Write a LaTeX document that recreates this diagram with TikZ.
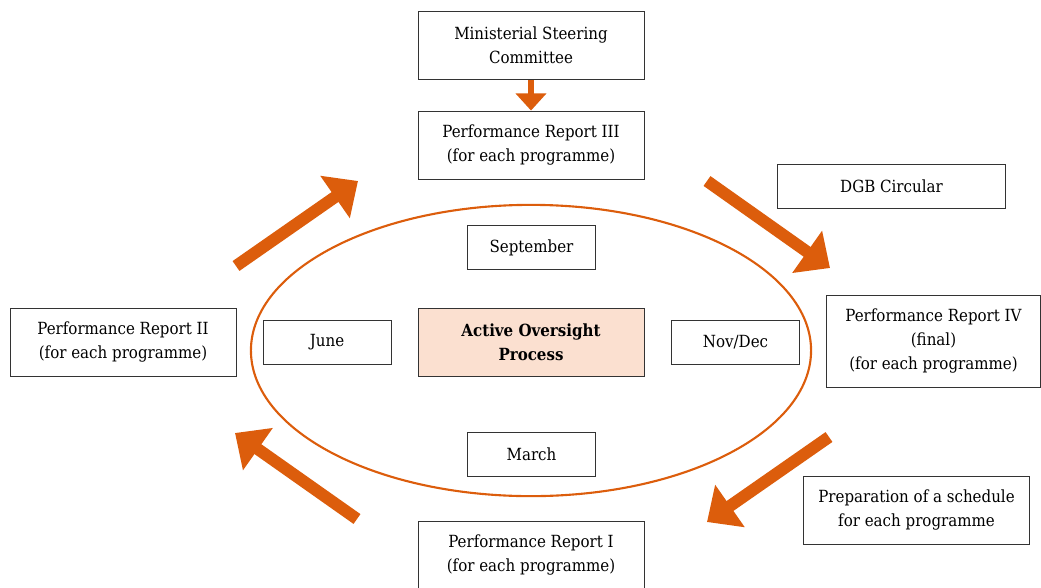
\documentclass[tikz,border=0pt]{standalone}
\usepackage{fontspec}
\setmainfont{DejaVu Serif Condensed}
\usetikzlibrary{arrows.meta,positioning}
\definecolor{oorange}{RGB}{220,93,12}
\definecolor{peach}{RGB}{251,224,208}

\begin{document}
\begin{tikzpicture}[x=0.025cm,y=-0.025cm,
	box/.style={draw=black!80, line width=0.6pt, align=center, font=\fontsize{11.9}{17}\selectfont, inner sep=0pt},
	widebox/.style={box, minimum width=5.65cm, minimum height=1.7cm},
	monthbox/.style={box, minimum width=3.2cm, minimum height=1.1cm},
	bigarrow/.style={oorange, line width=0.3cm, -{Triangle[length=0.7cm,width=1.25cm]}}]
	\useasboundingbox (0,0) rectangle (1041,587);

	\node[widebox] (msc) at (531,45.5) {Ministerial Steering\\Committee};
	\node[widebox] (pr3) at (531,145) {Performance Report III\\(for each programme)};
	\node[box, minimum width=5.68cm, minimum height=1.1cm] (dgb) at (891.5,186) {DGB Circular};
	\node[widebox] (pr2) at (123,342) {Performance Report II\\(for each programme)};
	\node[box, minimum width=5.33cm, minimum height=2.3cm] (pr4) at (933.5,341) {Performance Report IV\\(final)\\(for each programme)};
	\node[widebox] (prep) at (916.5,510) {Preparation of a schedule\\for each programme};
	\node[widebox] (pr1) at (531,555) {Performance Report I\\(for each programme)};

	\draw[oorange, line width=1.5pt] (531,350.5) ellipse [x radius=7cm, y radius=3.64cm];

	\node[monthbox] (sep) at (531.5,247.5) {September};
	\node[monthbox] (jun) at (327,342) {June};
	\node[monthbox] (nov) at (735.5,342) {Nov/Dec};
	\node[monthbox] (mar) at (531.5,454) {March};
	\node[widebox, fill=peach, font=\fontsize{11.9}{17}\selectfont\bfseries] (aop) at (531,342) {Active Oversight\\Process};

	\draw[oorange, line width=0.15cm, -{Triangle[length=0.43cm,width=0.75cm]}] (msc) -- (pr3);

	\coordinate (a1s) at (236,266);
	\coordinate (a1e) at (358,181);
	\coordinate (a2s) at (707,181);
	\coordinate (a2e) at (830,268);
	\coordinate (a3s) at (829,437);
	\coordinate (a3e) at (707,522);
	\coordinate (a4s) at (357,519);
	\coordinate (a4e) at (235,433);
	\draw[bigarrow] (a1s) -- (a1e);
	\draw[bigarrow] (a2s) -- (a2e);
	\draw[bigarrow] (a3s) -- (a3e);
	\draw[bigarrow] (a4s) -- (a4e);
\end{tikzpicture}
\end{document}
